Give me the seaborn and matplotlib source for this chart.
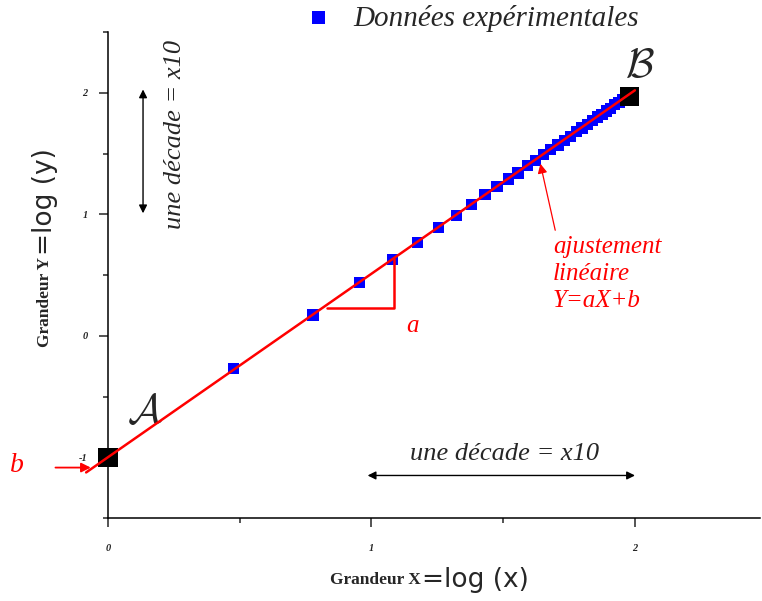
import numpy as np
import pandas as pd
import seaborn as sns
import matplotlib.pyplot as plt
from matplotlib.ticker import MultipleLocator

# données expérimentales (log-log)
x_exp = [0.477, 0.778, 0.954, 1.079, 1.176, 1.255, 1.322, 1.380, 1.431, 1.477,
         1.519, 1.556, 1.591, 1.623, 1.653, 1.681, 1.708, 1.732, 1.756, 1.778,
         1.799, 1.820, 1.839, 1.857, 1.875, 1.892, 1.908, 1.924, 1.940, 1.954,
         1.968, 1.982, 1.996]
y_exp = [-0.27, 0.17, 0.44, 0.63, 0.77, 0.89, 0.99, 1.08, 1.16, 1.23,
         1.29, 1.34, 1.40, 1.44, 1.49, 1.53, 1.57, 1.61, 1.64, 1.68,
         1.71, 1.74, 1.77, 1.80, 1.82, 1.85, 1.87, 1.90, 1.92, 1.94,
         1.96, 1.98, 2.00]

# points A et B
x_ab = [0.0, 1.98]
y_ab = [-1.0, 1.97]

# droite d'ajustement Y = aX + b
x_fit = [-0.083, 2.0]
y_fit = [-1.125, 2.02]

# triangle de pente
x_tri = [0.83, 1.085, 1.085]
y_tri = [0.23, 0.23, 0.633]

x_ticks = [0, 1, 2]
y_ticks = [-1, 0, 1, 2]

df = pd.DataFrame({'X': x_exp, 'Y': y_exp})

sns.set_style('ticks')
plt.rcParams['font.family'] = ['Liberation Serif', 'DejaVu Serif']

fig = plt.figure(figsize=(7.62, 6.01), dpi=100)
ax = fig.add_axes([108 / 762, 83 / 601, (760 - 108) / 762, (569 - 83) / 601])

sns.scatterplot(data=df, x='X', y='Y', marker='s', s=65, color='#0000ff',
                edgecolor='none', label='Données expérimentales', ax=ax, zorder=3)
sns.scatterplot(x=x_ab, y=y_ab, marker='s', s=190, color='black',
                edgecolor='none', ax=ax, zorder=4, clip_on=False)
ax.plot(x_fit, y_fit, color='red', lw=1.8, zorder=5, clip_on=False)
ax.plot(x_tri, y_tri, color='red', lw=1.8, zorder=5)

ax.set_xlim(0, 2.475)
ax.set_ylim(-1.5, 2.5)
ax.set_xticks(x_ticks)
ax.set_yticks(y_ticks)
ax.set_xticklabels([str(v) for v in x_ticks])
ax.set_yticklabels([str(v) for v in y_ticks])
ax.xaxis.set_minor_locator(MultipleLocator(0.5))
ax.yaxis.set_minor_locator(MultipleLocator(0.5))
ax.tick_params(which='major', length=6.5, width=1.1, labelsize=7.5, direction='out')
ax.tick_params(which='minor', length=3.5, width=1.1, direction='out')
ax.tick_params(axis='x', which='major', pad=12)
ax.tick_params(axis='y', which='major', pad=8)
for lab in ax.get_xticklabels() + ax.get_yticklabels():
    lab.set_fontstyle('italic')
    lab.set_fontweight('bold')
for side in ['top', 'right']:
    ax.spines[side].set_visible(False)
for side in ['left', 'bottom']:
    ax.spines[side].set_linewidth(1.1)
    ax.spines[side].set_color('black')
ax.set_xlabel('')
ax.set_ylabel('')

# légende en haut
ax.get_legend().remove()
h, l = ax.get_legend_handles_labels()
fig.legend(h[:1], l[:1], loc='center', bbox_to_anchor=(470 / 762, 0.970), frameon=False,
           prop={'family': 'Liberation Serif', 'style': 'italic', 'size': 21},
           handletextpad=0.6, handlelength=1.2, markerscale=1.15)

# étiquettes A et B
ax.text(0.14, -0.63, r'$\mathcal{A}$', fontsize=30, math_fontfamily='cm',
        ha='center', va='center')
ax.text(2.019, 2.21, r'$\mathcal{B}$', fontsize=30, math_fontfamily='cm',
        ha='center', va='center')

# annotations en rouge
ax.text(1.689, 0.82, 'ajustement\nlinéaire\nY=aX+b', color='red', fontsize=18,
        style='italic', ha='left', va='top', linespacing=1.3)
ax.annotate('', xy=(1.639, 1.438), xytext=(1.700, 0.846),
            arrowprops=dict(arrowstyle='-|>', color='red', lw=0.9, mutation_scale=14))
ax.text(1.154, 0.08, 'a', color='red', fontsize=18, style='italic', ha='center', va='center')
ax.text(-0.345, -1.07, 'b', color='red', fontsize=20, style='italic', ha='center',
        va='center', clip_on=False)
ax.annotate('', xy=(-0.055, -1.085), xytext=(-0.21, -1.085), annotation_clip=False,
            arrowprops=dict(arrowstyle='-|>', color='red', lw=1.3, mutation_scale=14))

# une décade
ax.annotate('', xy=(0.133, 2.05), xytext=(0.133, 0.985),
            arrowprops=dict(arrowstyle='<|-|>', color='black', lw=1.0, mutation_scale=12))
ax.text(0.254, 1.66, 'une décade = x10', rotation=90, fontsize=19, style='italic',
        ha='center', va='center')
ax.annotate('', xy=(2.011, -1.15), xytext=(0.975, -1.15),
            arrowprops=dict(arrowstyle='<|-|>', color='black', lw=1.0, mutation_scale=12))
ax.text(1.507, -0.97, 'une décade = x10', fontsize=19, style='italic',
        ha='center', va='center')

# titres des axes
fig.text(421 / 762, 1 - 580 / 601, 'Grandeur X', fontsize=12.5, fontweight='bold',
         family='Liberation Serif', ha='right', va='center')
fig.text(422 / 762, 1 - 580 / 601, '=log (x)', fontsize=19, family='DejaVu Sans',
         ha='left', va='center')
fig.text(45 / 762, 1 - 257 / 601, 'Grandeur Y', fontsize=12.5, fontweight='bold',
         family='Liberation Serif', rotation=90, ha='center', va='top')
fig.text(45 / 762, 1 - 255 / 601, '=log (y)', fontsize=19, family='DejaVu Sans',
         rotation=90, ha='center', va='bottom')

fig.savefig('out.png', dpi=100)
